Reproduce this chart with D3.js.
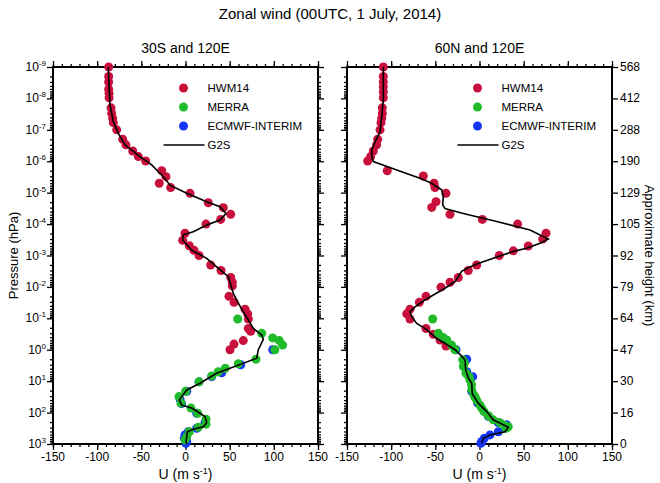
<!DOCTYPE html>
<html>
<head>
<meta charset="utf-8">
<script src="https://cdn.jsdelivr.net/npm/d3@7"></script>
<style>
body { margin: 0; background: #fff; }
text { font-family: "Liberation Sans", Arial, Helvetica, sans-serif; fill: #000; }
</style>
</head>
<body>
<div id="chart"></div>
<script>
// Zonal wind profiles, [U (m/s), pressure (hPa)]
var hwmSouth = [[-87,1e-9],[-87,2.0e-9],[-87,3.0e-9],[-87,5.1e-9],[-86.5,6.9e-9],[-86.5,9.5e-9],
  [-84.3,2.0e-8],[-83.6,3.0e-8],[-82.4,4.3e-8],[-81.7,5.9e-8],[-77.9,1e-7],[-71.1,2.0e-7],[-67.4,3.0e-7],
  [-59.8,4.7e-7],[-53.4,7.1e-7],[-45.1,9.8e-7],[-26.9,2.0e-6],[-22.1,3.1e-6],[-29.7,5.0e-6],[-16.8,6.9e-6],
  [5.1,1.05e-5],[25.8,2.1e-5],[42.8,3.0e-5],[51.2,4.9e-5],[39.8,7.1e-5],[23.2,1.0e-4],[-0.6,1.95e-4],
  [-3.2,3.3e-4],[4.3,4.9e-4],[9.6,6.8e-4],[15.3,1.0e-3],[28.5,2.0e-3],[40.2,3.0e-3],[51.2,5.0e-3],
  [53,7.1e-3],[53,9.3e-3],[49.2,2.0e-2],[54.9,3.1e-2],[67.4,5.1e-2],[70.4,7.2e-2],[71.1,1.05e-1],
  [71.1,2.1e-1],[73.8,2.6e-1],[65.4,5.1e-1],[54.9,6.6e-1],[50.4,1.0]];
var merraSouth = [[59.1,1.05e-1],[86.3,3.0e-1],[98.7,4.2e-1],[106.2,5.1e-1],[110,7.1e-1],[101.2,1.0],
  [79.8,2.0],[59.8,2.8],[45,3.9],[37.1,5.0],[29.7,6.8],[15.3,10.5],[0.2,21],[-7.4,31],[-5.1,50],
  [6.2,72],[13.8,105],[23.2,162],[23.2,234],[14.5,295],[4.3,407],[1.4,589],[-0.6,741]];
var ecmwfSouth = [[98.7,1.0],[62.5,3.0],[41,5.4],[29.7,7.2],[15.3,10.5],[1.4,21],[-6.2,37],[-4.5,52],
  [12.7,105],[22.1,209],[12.7,316],[3.2,407],[-0.6,513],[-1.3,661],[1.4,832],[0.5,955]];
var g2sSouth = [[-87.4,1e-9],[-86.6,3.3e-9],[-85.5,1.6e-8],[-81.7,5.5e-8],[-76.1,1.3e-7],[-68.5,3.0e-7],
  [-51.5,7.1e-7],[-38.3,1.3e-6],[-25.1,3.1e-6],[-17.5,5.8e-6],[1.4,1.05e-5],[24,1.95e-5],[39.1,2.8e-5],
  [45.9,4.6e-5],[39.1,7.4e-5],[24,1.07e-4],[8.8,1.74e-4],[-2.5,2.2e-4],[-3.2,3.2e-4],[7,6.8e-4],
  [24,1.23e-3],[35.3,2.3e-3],[48.5,4.7e-3],[54.1,1.6e-2],[59.8,3.3e-2],[65.4,6.2e-2],[71.1,1.12e-1],
  [76.8,2.1e-1],[86.3,3.4e-1],[88.1,4.7e-1],[82.4,1.0],[80.6,1.86],[65.4,2.7],[50.4,3.9],[35.3,5.6],
  [16.4,11.7],[1.4,19],[-4.3,31],[-7,40],[-4.3,58],[7,72],[16.4,105],[22.1,135],[24,209],[20.2,282],
  [8.8,339],[2,407],[1.4,589],[0.6,832],[1.4,1000]];

var hwmNorth = [[-108.9,1e-9],[-108.9,2.0e-9],[-108.9,3.0e-9],[-108.9,4.3e-9],[-108.9,6.2e-9],[-108.9,9.5e-9],
  [-110,2.0e-8],[-110,3.0e-8],[-110.7,4.3e-8],[-111.5,5.9e-8],[-112.6,1e-7],[-115.3,2.0e-7],[-116.4,3.0e-7],
  [-120.2,4.7e-7],[-123.2,7.1e-7],[-126.6,9.8e-7],[-104.4,2.0e-6],[-63.6,2.95e-6],[-51.5,5.0e-6],
  [-50.4,6.9e-6],[-37.9,1.05e-5],[-49.2,1.95e-5],[-54.1,2.95e-5],[-33.4,4.9e-5],[3.2,7.1e-5],[43.2,1.0e-4],
  [75.3,1.95e-4],[71.5,3.0e-4],[55.2,5.0e-4],[38.3,7.1e-4],[22.4,1e-3],[-3.2,2.0e-3],[-12.7,3.0e-3],
  [-24,5.0e-3],[-33.4,7.1e-3],[-43.6,1.02e-2],[-60.6,2.0e-2],[-68.1,3.1e-2],[-78.7,5.1e-2],[-82.4,7.2e-2],
  [-78.7,1.05e-1],[-60.6,2.1e-1],[-52.3,3.2e-1],[-44.7,4.9e-1],[-37.9,7.6e-1]];
var merraNorth = [[-53,1.05e-1],[-46.6,3.0e-1],[-41,4.1e-1],[-37.1,4.9e-1],[-31.5,7.1e-1],[-27.7,1.0],
  [-19,2.1],[-17,2.6],[-18.3,3.4],[-15.3,5.6],[-12,7.1],[-10.8,9.1],[-9,13],[-8.8,19],[-6.2,28],[-5,33],
  [-3.2,40],[0.6,58],[2.5,72],[5.1,93],[10,126],[15.6,170],[23.2,209],[28,251],[32.6,282],[30,316]];
var ecmwfNorth = [[-26.6,1.0],[-14.5,2.0],[-14.5,5.0],[-7.7,7.2],[-8.8,21],[-2,50],[10,132],[21.3,209],
  [30.8,245],[21.3,407],[11.9,513],[5.4,661],[2.5,832],[1.5,955]];
var g2sNorth = [[-108.9,1e-9],[-108.9,1.15e-8],[-110.7,3.8e-8],[-112.6,1.15e-7],[-118.3,2.4e-7],[-122,4.4e-7],
  [-122,7.1e-7],[-120.2,1.02e-6],[-93.7,1.9e-6],[-67.4,3.5e-6],[-54.1,5.0e-6],[-48.5,6.5e-6],[-42.8,8.1e-6],
  [-41,1.35e-5],[-41.7,2.45e-5],[-39.1,3.2e-5],[-18.3,4.6e-5],[19.5,8.3e-5],[57.2,1.55e-4],[77.9,3.0e-4],
  [68.5,4.1e-4],[53.4,5.9e-4],[38.3,7.4e-4],[-3.2,1.86e-3],[-14.5,2.6e-3],[-20.2,3.2e-3],[-27.7,6.8e-3],
  [-39.1,1.1e-2],[-52.3,1.8e-2],[-61.7,2.6e-2],[-73,4.3e-2],[-78.7,6.2e-2],[-76.8,8.9e-2],[-71.1,1.45e-1],
  [-59.8,2.3e-1],[-48.5,4.4e-1],[-39.1,6.2e-1],[-27.7,1.0],[-20.2,1.6],[-16.4,2.1],[-15.6,4.4],[-12.7,7.9],
  [-8.8,11.7],[-8.2,25],[-1.4,50],[8.2,93],[15.6,170],[26.9,245],[32.6,295],[28.9,407],[11.9,513],
  [4.3,661],[2.5,955]];

var uTicks = [-150, -100, -50, 0, 50, 100, 150];
var pDecades = [1e-9,1e-8,1e-7,1e-6,1e-5,1e-4,1e-3,1e-2,1e-1,1e0,1e1,1e2,1e3];
var pExponents = [-9,-8,-7,-6,-5,-4,-3,-2,-1,0,1,2,3];
var heightLabels = [568,412,288,190,129,105,92,79,64,47,30,16,0];
var legendNames = ["HWM14", "MERRA", "ECMWF-INTERIM", "G2S"];
var colors = {HWM14: "#c8103c", MERRA: "#20bb2a", ECMWF: "#1436f5"};

var width = 660, height = 483;
var yTop = 67, yBot = 444;

var svg = d3.select("#chart").append("svg")
    .attr("width", width)
    .attr("height", height);

var y = d3.scaleLog().domain([1e-9, 1e3]).range([yTop, yBot]);

var uMinor = d3.range(-150, 151, 10);
var pMinor = [];
pDecades.slice(0, -1).forEach(function(d) {
  for (var k = 2; k <= 9; k++) pMinor.push(d * k);
});

svg.append("text")
    .attr("x", 330).attr("y", 19)
    .attr("text-anchor", "middle")
    .attr("font-size", "15px")
    .text("Zonal wind (00UTC, 1 July, 2014)");

function panel(x0, x1, title, hwm, merra, ecmwf, g2s, side) {
  var x = d3.scaleLinear().domain([-150, 150]).range([x0, x1]);
  var g = svg.append("g");

  // axes
  function ticks(axis, vals, size, tr) {
    g.append("g").attr("transform", tr)
      .call(axis.tickValues(vals).tickSize(size).tickFormat(""))
      .call(function(s) {
        s.select(".domain").remove();
        s.selectAll("line").attr("stroke", "#000").attr("stroke-width", 1.3);
      });
  }
  ticks(d3.axisTop(x), uTicks, 6, "translate(0," + yTop + ")");
  ticks(d3.axisTop(x), uMinor, 3, "translate(0," + yTop + ")");
  ticks(d3.axisBottom(x), uTicks, 6, "translate(0," + yBot + ")");
  ticks(d3.axisBottom(x), uMinor, 3, "translate(0," + yBot + ")");
  ticks(d3.axisLeft(y), pDecades, 6, "translate(" + x0 + ",0)");
  ticks(d3.axisLeft(y), pMinor, 3, "translate(" + x0 + ",0)");
  ticks(d3.axisRight(y), pDecades, 6, "translate(" + x1 + ",0)");
  if (side === "left") ticks(d3.axisRight(y), pMinor, 3, "translate(" + x1 + ",0)");

  g.selectAll(".ulab").data(uTicks).join("text")
      .attr("x", function(d) { return x(d); })
      .attr("y", yBot + 17)
      .attr("text-anchor", "middle")
      .attr("font-size", "12px")
      .text(function(d) { return String(d); });

  if (side === "left") {
    var lab = g.selectAll(".plab").data(pDecades).join("text")
        .attr("x", x0 - 7)
        .attr("y", function(d) { return y(d) + 4; })
        .attr("text-anchor", "end")
        .attr("font-size", "12px");
    lab.append("tspan").text("10");
    lab.append("tspan").attr("dy", -5).attr("font-size", "8px")
        .text(function(d, i) { return pExponents[i]; });
  } else {
    g.selectAll(".hlab").data(pDecades).join("text")
        .attr("x", x1 + 8)
        .attr("y", function(d) { return y(d) + 4; })
        .attr("font-size", "12px")
        .text(function(d, i) { return heightLabels[i]; });
  }

  // frame
  g.append("rect")
      .attr("x", x0).attr("y", yTop)
      .attr("width", x1 - x0).attr("height", yBot - yTop)
      .attr("fill", "none").attr("stroke", "#000").attr("stroke-width", 2);

  // panel title and x title
  g.append("text")
      .attr("x", (x0 + x1) / 2).attr("y", 53)
      .attr("text-anchor", "middle").attr("font-size", "14px")
      .text(title);
  var xt = g.append("text")
      .attr("x", (x0 + x1) / 2).attr("y", 479)
      .attr("text-anchor", "middle").attr("font-size", "14px");
  xt.append("tspan").text("U (m s");
  xt.append("tspan").attr("dy", -5).attr("font-size", "9px").text("-1");
  xt.append("tspan").attr("dy", 5).text(")");

  // data
  function dots(data, color) {
    g.append("g").selectAll("circle").data(data).join("circle")
        .attr("cx", function(d) { return x(d[0]); })
        .attr("cy", function(d) { return y(d[1]); })
        .attr("r", 4.5)
        .attr("fill", color);
  }
  dots(hwm, colors.HWM14);
  dots(ecmwf, colors.ECMWF);
  dots(merra, colors.MERRA);

  g.append("path")
      .datum(g2s)
      .attr("fill", "none")
      .attr("stroke", "#000")
      .attr("stroke-width", 1.6)
      .attr("d", d3.line()
          .x(function(d) { return x(d[0]); })
          .y(function(d) { return y(d[1]); }));

  // legend
  var lx = (x0 + x1) / 2 - 2, tx = lx + 24;
  var ly = [88, 107, 126, 145];
  var lc = [colors.HWM14, colors.MERRA, colors.ECMWF];
  lc.forEach(function(c, i) {
    g.append("circle").attr("cx", lx).attr("cy", ly[i]).attr("r", 4.5).attr("fill", c);
  });
  g.append("line")
      .attr("x1", lx - 20).attr("x2", tx - 3)
      .attr("y1", ly[3]).attr("y2", ly[3])
      .attr("stroke", "#000").attr("stroke-width", 1.6);
  legendNames.forEach(function(n, i) {
    g.append("text").attr("x", tx).attr("y", ly[i] + 4)
        .attr("font-size", "11.5px").text(n);
  });
}

panel(53, 318, "30S and 120E", hwmSouth, merraSouth, ecmwfSouth, g2sSouth, "left");
panel(347, 612, "60N and 120E", hwmNorth, merraNorth, ecmwfNorth, g2sNorth, "right");

svg.append("text")
    .attr("transform", "translate(18," + (yTop + yBot) / 2 + ") rotate(-90)")
    .attr("text-anchor", "middle")
    .attr("font-size", "13px")
    .text("Pressure (hPa)");

svg.append("text")
    .attr("transform", "translate(645," + (yTop + yBot) / 2 + ") rotate(90)")
    .attr("text-anchor", "middle")
    .attr("font-size", "13px")
    .text("Approximate height (km)");
</script>
</body>
</html>
